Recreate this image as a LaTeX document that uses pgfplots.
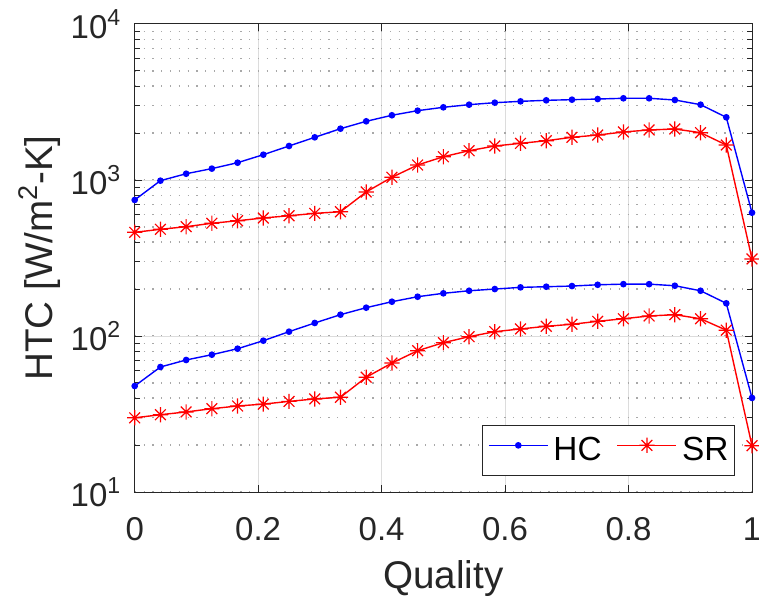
\documentclass[border=0pt]{standalone}
\usepackage{fontspec}
\setmainfont{Liberation Sans}
\usepackage{pgfplots}
\usepackage{pgfplotstable}
\pgfplotsset{compat=1.18}
\definecolor{axgray}{HTML}{262626}
\definecolor{gridmaj}{HTML}{DCDCDC}
\definecolor{gridmin}{HTML}{A8A8A8}

% matlab style '*' marker (plus and cross)
\pgfdeclareplotmark{mstar}{%
  \pgfpathmoveto{\pgfqpoint{0pt}{\pgfplotmarksize}}%
  \pgfpathlineto{\pgfqpoint{0pt}{-\pgfplotmarksize}}%
  \pgfpathmoveto{\pgfqpoint{\pgfplotmarksize}{0pt}}%
  \pgfpathlineto{\pgfqpoint{-\pgfplotmarksize}{0pt}}%
  \pgfpathmoveto{\pgfqpoint{.7071\pgfplotmarksize}{.7071\pgfplotmarksize}}%
  \pgfpathlineto{\pgfqpoint{-.7071\pgfplotmarksize}{-.7071\pgfplotmarksize}}%
  \pgfpathmoveto{\pgfqpoint{-.7071\pgfplotmarksize}{.7071\pgfplotmarksize}}%
  \pgfpathlineto{\pgfqpoint{.7071\pgfplotmarksize}{-.7071\pgfplotmarksize}}%
  \pgfusepathqstroke}

\pgfplotstableread{
x        hcA   srA   hcB    srB
0        745   462   47.8   29.9
0.041667 990   483   63.3   31.3
0.083333 1097  502   70.2   32.6
0.125    1183  528   75.9   34.2
0.166667 1291  548   82.9   35.6
0.208333 1453  571   93.3   36.6
0.25     1652  590   106.6  38.1
0.291667 1878  611   121.2  39.5
0.333333 2133  626   137    40.5
0.375    2378  838   151.9  54.4
0.416667 2600  1041  165.9  67.1
0.458333 2783  1248  178.6  80.5
0.5      2924  1410  187.8  90.6
0.541667 3040  1541  195    99
0.583333 3131  1652  200    106.6
0.625    3193  1718  205    111
0.666667 3242  1786  207    115.4
0.708333 3273  1878  209    118.9
0.75     3304  1942  213    124.2
0.791667 3340  2031  215    129
0.833333 3340  2093  215    134.4
0.875    3258  2123  210    137
0.916667 3040  2011  195    129
0.958333 2523  1676  162    109
1        617   312   40.1   19.8
}\htcdata

\begin{document}
\begin{tikzpicture}
\useasboundingbox (-67.35pt,-54pt) rectangle (312.15pt,246pt);
\begin{axis}[
    scale only axis,
    width=308.65pt,
    height=234pt,
    at={(0,0)}, anchor=south west,
    ymode=log,
    xmin=0, xmax=1,
    ymin=10, ymax=10000,
    xtick={0,0.2,0.4,0.6,0.8,1},
    xticklabels={0,0.2,0.4,0.6,0.8,1},
    ytick={10,100,1000,10000},
    yticklabels={10\textsuperscript{1},10\textsuperscript{2},10\textsuperscript{3},10\textsuperscript{4}},
    xmajorgrids=true,
    ymajorgrids=true,
    yminorgrids=true,
    major grid style={gridmaj, line width=0.5pt},
    minor grid style={gridmin, line width=0.6pt, dash pattern=on 0.6pt off 3.8pt},
    axis line style={axgray, line width=0.5pt},
    tick style={axgray, line width=0.5pt},
    tick align=inside,
    major tick length=3.5pt,
    minor tick length=2.5pt,
    ticklabel style={font=\fontsize{16.5}{19}\selectfont, text=axgray, inner sep=0pt},
    xticklabel style={anchor=base, yshift=-24pt},
    yticklabel style={anchor=east, xshift=-6.5pt},
    xlabel={Quality},
    ylabel={HTC [W/m\textsuperscript{2}-K]},
    label style={font=\fontsize{19.3}{23}\selectfont, text=axgray},
    xlabel style={at={(axis description cs:0.5,-0.207)}, anchor=base},
    ylabel style={at={(axis description cs:-0.1324,0.5)}, anchor=base},
    clip=false,
    legend columns=2,
    legend style={at={(axis description cs:0.9725,0.0342)}, anchor=south east,
        draw=axgray, line width=0.5pt, inner xsep=3pt, inner ysep=6pt,
        font=\fontsize{16.7}{19}\selectfont, text=black,
        nodes={inner sep=0pt},
        /tikz/every odd column/.append style={column sep=2.5pt},
        /tikz/every even column/.append style={column sep=7.5pt}},
    legend image code/.code={\draw[mark repeat=2, mark phase=2, #1] plot coordinates {(0pt,0.25em) (14.75pt,0.25em) (29.5pt,0.25em)};},
]
\addplot[blue, line width=0.7pt, mark=*, mark size=1.3pt] table[x=x, y=hcA] {\htcdata};
\addlegendentry{HC}
\addplot[red, line width=0.7pt, mark=mstar, mark size=3.8pt, mark options={line width=0.6pt}] table[x=x, y=srA] {\htcdata};
\addlegendentry{SR}
\addplot[blue, line width=0.7pt, mark=*, mark size=1.3pt, forget plot] table[x=x, y=hcB] {\htcdata};
\addplot[red, line width=0.7pt, mark=mstar, mark size=3.8pt, mark options={line width=0.6pt}, forget plot] table[x=x, y=srB] {\htcdata};
\end{axis}
\end{tikzpicture}
\end{document}
